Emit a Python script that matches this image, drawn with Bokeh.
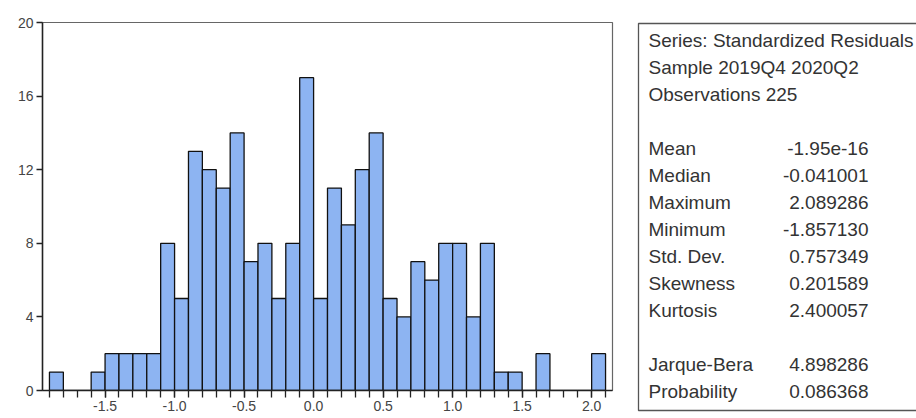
from bokeh.plotting import figure
from bokeh.models import Range1d, FixedTicker
from bokeh.layouts import row
from bokeh.embed import file_html
from bokeh.resources import INLINE
from bokeh.core.properties import value

# ---------------- data ----------------
bin_lo = [-1.9, -1.8, -1.7, -1.6, -1.5, -1.4, -1.3, -1.2, -1.1, -1.0,
          -0.9, -0.8, -0.7, -0.6, -0.5, -0.4, -0.3, -0.2, -0.1, 0.0,
          0.1, 0.2, 0.3, 0.4, 0.5, 0.6, 0.7, 0.8, 0.9, 1.0,
          1.1, 1.2, 1.3, 1.4, 1.5, 1.6, 1.7, 1.8, 1.9, 2.0]
bin_hi = [-1.8, -1.7, -1.6, -1.5, -1.4, -1.3, -1.2, -1.1, -1.0, -0.9,
          -0.8, -0.7, -0.6, -0.5, -0.4, -0.3, -0.2, -0.1, 0.0, 0.1,
          0.2, 0.3, 0.4, 0.5, 0.6, 0.7, 0.8, 0.9, 1.0, 1.1,
          1.2, 1.3, 1.4, 1.5, 1.6, 1.7, 1.8, 1.9, 2.0, 2.1]
counts = [1, 0, 0, 1, 2, 2, 2, 2, 8, 5,
          13, 12, 11, 14, 7, 8, 5, 8, 17, 5,
          11, 9, 12, 14, 5, 4, 7, 6, 8, 8,
          4, 8, 1, 1, 0, 2, 0, 0, 0, 2]

x_ticks = [-1.5, -1.0, -0.5, 0.0, 0.5, 1.0, 1.5, 2.0]
x_tick_labels = ["-1.5", "-1.0", "-0.5", "0.0", "0.5", "1.0", "1.5", "2.0"]
x_minor_ticks = bin_lo + [2.1]
y_ticks = [0, 4, 8, 12, 16, 20]

stat_names = ["Series: Standardized Residuals", "Sample 2019Q4 2020Q2", "Observations 225", "",
              "Mean", "Median", "Maximum", "Minimum", "Std. Dev.", "Skewness", "Kurtosis", "",
              "Jarque-Bera", "Probability"]
stat_values = ["", "", "", "",
               "-1.95e-16", "-0.041001", "2.089286", "-1.857130", "0.757349", "0.201589", "2.400057", "",
               "4.898286", "0.086368"]

FONT = "Liberation Sans"

# ---------------- histogram ----------------
p = figure(width=628, height=418, output_backend="svg", toolbar_location=None, title=None,
           x_range=Range1d(-1.95, 2.15), y_range=Range1d(0, 20),
           min_border_left=42, min_border_right=16, min_border_top=22, min_border_bottom=28)
p.frame_align = False
p.quad(left=bin_lo, right=bin_hi, top=counts, bottom=0,
       fill_color="#8DB4F2", line_color="#111111", line_width=1.3)

p.grid.visible = False
p.outline_line_color = "#666666"
p.outline_line_width = 1.2
p.background_fill_color = "white"
p.border_fill_color = "white"

p.xaxis.ticker = FixedTicker(ticks=x_ticks, minor_ticks=x_minor_ticks)
p.xaxis.major_label_overrides = {t: l for t, l in zip(x_ticks, x_tick_labels)}
p.yaxis.ticker = FixedTicker(ticks=y_ticks)

for ax in (p.xaxis[0], p.yaxis[0]):
    ax.axis_line_color = "#222222"
    ax.axis_line_width = 1.5
    ax.major_tick_line_color = "#222222"
    ax.major_tick_line_width = 1.3
    ax.minor_tick_line_color = "#222222"
    ax.minor_tick_line_width = 1.3
    ax.major_tick_in = 0
    ax.minor_tick_in = 0
    ax.major_label_text_font = FONT
    ax.major_label_text_font_size = "14px"
    ax.major_label_text_color = "#444444"
p.xaxis.major_tick_out = 7
p.xaxis.minor_tick_out = 7
p.xaxis.major_label_standoff = 3
p.yaxis.major_tick_out = 6
p.yaxis.minor_tick_out = 0
p.yaxis.major_label_standoff = 3

# ---------------- stats box ----------------
q = figure(width=288, height=418, output_backend="svg", toolbar_location=None, title=None,
           x_axis_location=None, y_axis_location=None,
           x_range=Range1d(628, 916), y_range=Range1d(418, 0),
           min_border=0, min_border_left=0, min_border_right=0,
           min_border_top=0, min_border_bottom=0)
q.frame_align = False
q.grid.visible = False
q.outline_line_color = None
q.background_fill_color = "white"
q.border_fill_color = "white"

q.quad(left=[638], right=[950], top=[23], bottom=[410],
       fill_color=None, line_color="#555555", line_width=1.3)

row_y = [40 + 27 * i for i in range(len(stat_names))]
q.text(x=[648] * len(stat_names), y=row_y, text=stat_names,
       text_font=value(FONT), text_font_size="19px", text_color="#333333",
       text_align="left", text_baseline="middle")
q.text(x=[868] * len(stat_values), y=row_y, text=stat_values,
       text_font=value(FONT), text_font_size="19px", text_color="#333333",
       text_align="right", text_baseline="middle")

layout = row(p, q, spacing=0)
open("out.html", "w").write(file_html(layout, INLINE))
